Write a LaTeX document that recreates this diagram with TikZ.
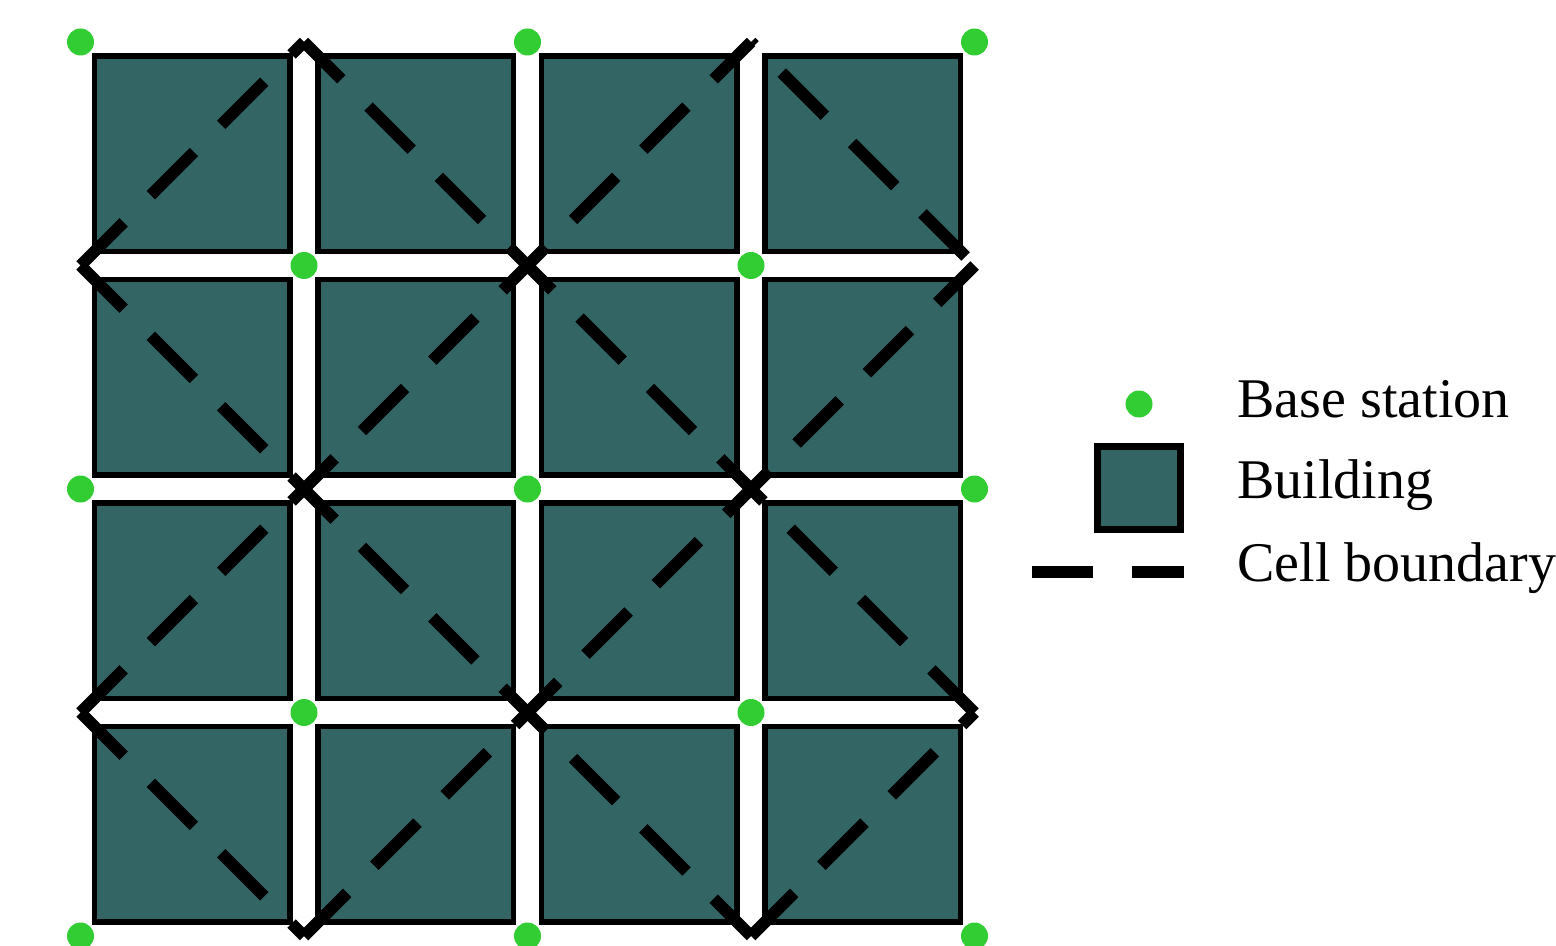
\documentclass[tikz,border=0pt]{standalone}
\usepackage{fontspec}
\setmainfont{Liberation Serif}
\definecolor{buildingteal}{RGB}{52,101,101}
\definecolor{stationgreen}{RGB}{50,205,50}
\begin{document}
\begin{tikzpicture}[x=0.5pt,y=-0.5pt,
  building/.style={draw=black,fill=buildingteal,line width=2.8pt,minimum size=97.75pt,inner sep=0pt,outer sep=0pt},
  station/.style={circle,fill=stationgreen,minimum size=13.5pt,inner sep=0pt,outer sep=0pt},
  cellline/.style={line width=6pt,dash pattern=on 30.5pt off 19.25pt},
  legtext/.style={font=\fontsize{28}{32}\selectfont,anchor=base west,inner sep=0pt}]
\useasboundingbox (0,0) rectangle (1556,946);
\node[building] (b00) at (192.25,153.75) {};
\node[building] (b10) at (415.75,153.75) {};
\node[building] (b20) at (639.25,153.75) {};
\node[building] (b30) at (862.75,153.75) {};
\node[building] (b01) at (192.25,377.25) {};
\node[building] (b11) at (415.75,377.25) {};
\node[building] (b21) at (639.25,377.25) {};
\node[building] (b31) at (862.75,377.25) {};
\node[building] (b02) at (192.25,600.75) {};
\node[building] (b12) at (415.75,600.75) {};
\node[building] (b22) at (639.25,600.75) {};
\node[building] (b32) at (862.75,600.75) {};
\node[building] (b03) at (192.25,824.25) {};
\node[building] (b13) at (415.75,824.25) {};
\node[building] (b23) at (639.25,824.25) {};
\node[building] (b33) at (862.75,824.25) {};
\coordinate (v10) at (304,42);
\coordinate (v30) at (751,42);
\coordinate (v01) at (80.5,265.5);
\coordinate (v21) at (527.5,265.5);
\coordinate (v41) at (974.5,265.5);
\coordinate (v12) at (304,489);
\coordinate (v32) at (751,489);
\coordinate (v03) at (80.5,712.5);
\coordinate (v23) at (527.5,712.5);
\coordinate (v43) at (974.5,712.5);
\coordinate (v14) at (304,936);
\coordinate (v34) at (751,936);
\draw[cellline] (v01) -- (v10);
\draw[cellline] (v03) -- (v12) -- (v21) -- (v30);
\draw[cellline] (v14) -- (v23) -- (v32) -- (v41);
\draw[cellline] (v34) -- (v43);
\draw[cellline,dash phase=43.4pt] (v41) -- (v30);
\draw[cellline] (v43) -- (v32) -- (v21) -- (v10);
\draw[cellline] (v01) -- (v12) -- (v23) -- (v34);
\draw[cellline] (v03) -- (v14);
\node[station] (s00) at (80.5,42) {};
\node[station] (s20) at (527.5,42) {};
\node[station] (s40) at (974.5,42) {};
\node[station] (s11) at (304,265.5) {};
\node[station] (s31) at (751,265.5) {};
\node[station] (s02) at (80.5,489) {};
\node[station] (s22) at (527.5,489) {};
\node[station] (s42) at (974.5,489) {};
\node[station] (s13) at (304,712.5) {};
\node[station] (s33) at (751,712.5) {};
\node[station] (s04) at (80.5,936) {};
\node[station] (s24) at (527.5,936) {};
\node[station] (s44) at (974.5,936) {};
\node[station] (legdot) at (1139,404) {};
\node[building,line width=3.25pt,minimum size=41.5pt] (legbox) at (1139,488) {};
\coordinate (legA) at (1032,572);
\coordinate (legB) at (1184,572);
\draw[cellline,line width=6.3pt] (legA) -- (legB);
\node[legtext] (legstation) at (1237,417.5) {Base station};
\node[legtext] (legbuilding) at (1237,498) {Building};
\node[legtext] (legcell) at (1237,581) {Cell boundary};
\end{tikzpicture}
\end{document}
